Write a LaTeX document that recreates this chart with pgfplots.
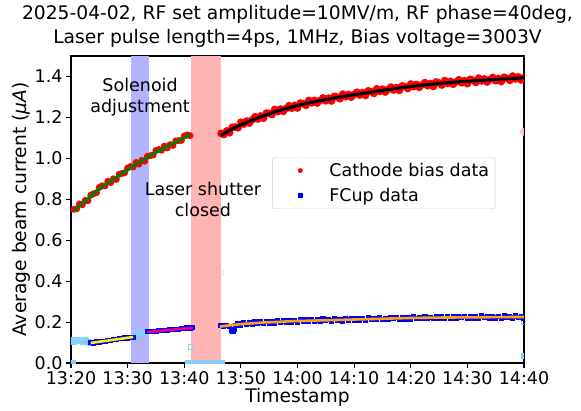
\documentclass[border=0pt]{standalone}
\usepackage{pgfplots}
\pgfplotsset{compat=1.18}
\usepackage{fontspec}
\setmainfont{DejaVu Sans}
\definecolor{lsky}{HTML}{87CEFA}
\definecolor{pinkx}{HTML}{FFC0CB}
\definecolor{bband}{HTML}{B3B3FF}
\definecolor{rband}{HTML}{FFB3B3}
\definecolor{fitgreen}{HTML}{008000}
\definecolor{fitorange}{HTML}{FFA500}
\newcommand{\fs}{\fontsize{17.5}{21}\selectfont}
\newcommand{\fl}{\fontsize{18.7}{24}\selectfont}
\begin{document}
\begin{tikzpicture}
\useasboundingbox (-71pt,-47pt) rectangle (510pt,363pt);
\begin{axis}[
  width=453pt, height=307pt, scale only axis,
  clip marker paths=true,
  xmin=0, xmax=80, ymin=0, ymax=1.5,
  xtick={0,10,...,80},
  xticklabels={13:20,13:30,13:40,13:50,14:00,14:10,14:20,14:30,14:40},
  ytick={0,0.2,...,1.41},
  yticklabel style={/pgf/number format/.cd, fixed, fixed zerofill, precision=1},
  /pgf/number format/assume math mode=true,
  tick label style={font=\fs},
  tick align=outside, xtick pos=bottom, ytick pos=left,
  major tick length=4.9pt,
  every tick/.style={black, line width=1.1pt},
  axis line style={line width=1.1pt},
  title={2025-04-02, RF set amplitude=10MV/m, RF phase=40deg,\\Laser pulse length=4ps, 1MHz, Bias voltage=3003V},
  title style={font=\fl, align=center, at={(0.5,1)}, anchor=south, yshift=-1pt},
  xlabel={Timestamp}, xlabel style={font=\fl, yshift=3pt},
  ylabel={Average beam current ({\itshape μA})}, ylabel style={font=\fl, yshift=-3pt},
  legend style={at={(0.444,0.671)}, anchor=north west, draw=black!20,
    rounded corners=3pt, font=\fs, row sep=6pt, inner sep=4pt, cells={anchor=west}},
  legend image code/.code={\path[draw=none, fill=none] (0pt,-4pt) rectangle (51pt,4pt);
    \draw[#1] plot coordinates {(24pt,0pt)};},
  dots/.style={only marks, forget plot, mark options={draw opacity=0}},
]
% shaded periods
\addplot[draw=none, fill=bband, forget plot] coordinates {(10.6,1.5) (13.8,1.5)} \closedcycle;
\addplot[draw=none, fill=rband, forget plot] coordinates {(21.2,1.5) (26.5,1.5)} \closedcycle;

\addlegendimage{only marks, mark=*, color=red, mark size=2.2pt}
\addlegendentry{Cathode bias data}
\addlegendimage{only marks, mark=square*, color=blue, mark size=2pt}
\addlegendentry{FCup data}

% excluded points
\addplot[dots, mark=square*, color=lsky, mark size=3pt] coordinates {
(0.0,0.108)(0.3,0.112)(0.6,0.104)(0.9,0.110)(1.2,0.113)(1.5,0.106)(1.8,0.109)
(2.1,0.104)(2.4,0.111)(2.7,0.107)(3.0,0.102)(3.3,0.099)
(0.2,0.000)(0.4,0.002)
(11.3,0.130)(11.7,0.136)(12.0,0.140)(12.4,0.145)(12.8,0.147)(13.2,0.150)
(20.6,0.000)(21.1,0.000)(21.6,0.000)(22.1,0.000)(22.6,0.000)(23.1,0.000)
(23.6,0.000)(24.1,0.000)(24.6,0.000)(25.1,0.000)(25.6,0.000)(26.1,0.000)(26.7,0.000)
(80,0.035)
};
\addplot[only marks, mark=square, color=lsky, mark size=2.5pt, forget plot] coordinates {(21.2,0.08)(80,0.20)};
\addplot[dots, mark=*, color=pinkx, mark size=4pt] coordinates {(80,1.13)};
\addplot[only marks, mark=o, color=pinkx, mark size=3pt, forget plot] coordinates {(26.5,0.44)};

% cathode bias data
\addplot[dots, mark=*, color=red, mark size=3.5pt] coordinates {
(0.5,0.751)(1.0,0.753)(1.5,0.777)(2.0,0.773)(2.5,0.794)(3.0,0.793)(3.5,0.820)(4.0,0.827)
(4.5,0.832)(5.0,0.858)(5.5,0.866)(6.0,0.865)(6.5,0.888)(7.0,0.881)(7.5,0.900)(8.0,0.897)
(8.5,0.922)(9.0,0.926)(9.5,0.930)(10.0,0.953)(10.5,0.960)(11.0,0.958)(11.5,0.980)(12.0,0.972)
(12.5,0.990)(13.0,0.986)(13.5,1.010)(14.0,1.013)(14.5,1.016)(15.0,1.038)(15.5,1.043)(16.0,1.040)
(16.5,1.060)(17.0,1.051)(17.5,1.067)(18.0,1.063)(18.5,1.085)(19.0,1.087)(19.5,1.088)(20.0,1.109)
(20.5,1.114)(21.0,1.111)
};
\addplot[dots, mark=*, color=red, mark size=3.9pt] coordinates {
(26.5,1.122)(27.0,1.116)(27.5,1.134)(28.0,1.125)(28.5,1.152)(29.0,1.153)(29.5,1.149)(30.0,1.176)
(30.5,1.167)(31.0,1.182)(31.5,1.172)(32.0,1.188)(32.5,1.203)(33.0,1.192)(33.5,1.207)(34.0,1.196)
(34.5,1.221)(35.0,1.220)(35.5,1.214)(36.0,1.239)(36.5,1.228)(37.0,1.241)(37.5,1.229)(38.0,1.244)
(38.5,1.257)(39.0,1.245)(39.5,1.259)(40.0,1.246)(40.5,1.270)(41.0,1.267)(41.5,1.259)(42.0,1.283)
(42.5,1.271)(43.0,1.283)(43.5,1.270)(44.0,1.283)(44.5,1.295)(45.0,1.281)(45.5,1.294)(46.0,1.280)
(46.5,1.303)(47.0,1.299)(47.5,1.291)(48.0,1.314)(48.5,1.301)(49.0,1.312)(49.5,1.299)(50.0,1.312)
(50.5,1.323)(51.0,1.309)(51.5,1.321)(52.0,1.307)(52.5,1.330)(53.0,1.326)(53.5,1.317)(54.0,1.340)
(54.5,1.327)(55.0,1.338)(55.5,1.324)(56.0,1.337)(56.5,1.348)(57.0,1.334)(57.5,1.346)(58.0,1.332)
(58.5,1.354)(59.0,1.350)(59.5,1.341)(60.0,1.363)(60.5,1.350)(61.0,1.361)(61.5,1.347)(62.0,1.359)
(62.5,1.370)(63.0,1.355)(63.5,1.366)(64.0,1.351)(64.5,1.373)(65.0,1.368)(65.5,1.358)(66.0,1.380)
(66.5,1.366)(67.0,1.376)(67.5,1.362)(68.0,1.374)(68.5,1.384)(69.0,1.369)(69.5,1.380)(70.0,1.365)
(70.5,1.386)(71.0,1.381)(71.5,1.371)(72.0,1.392)(72.5,1.378)(73.0,1.388)(73.5,1.373)(74.0,1.385)
(74.5,1.395)(75.0,1.379)(75.5,1.390)(76.0,1.375)(76.5,1.396)(77.0,1.391)(77.5,1.381)(78.0,1.402)
(78.5,1.388)(79.0,1.398)(79.5,1.383)(80.0,1.395)
};

% FCup data
\addplot[dots, mark=square*, color=blue, mark size=2.6pt] coordinates {
(3.5,0.099)(4.0,0.098)(4.5,0.103)(5.0,0.103)(5.5,0.107)(6.0,0.107)(6.5,0.111)(7.0,0.111)
(7.5,0.115)(8.0,0.115)(8.5,0.118)(9.0,0.118)(9.5,0.122)(10.0,0.122)(10.5,0.126)(11.0,0.126)
(13.5,0.152)(14.0,0.152)(14.5,0.155)(15.0,0.154)(15.5,0.158)(16.0,0.157)(16.5,0.160)(17.0,0.159)
(17.5,0.163)(18.0,0.162)(18.5,0.165)(19.0,0.165)(19.5,0.168)(20.0,0.167)(20.5,0.171)(21.0,0.170)
(21.5,0.173)
(26.5,0.184)(27.0,0.177)(27.5,0.184)(28.0,0.178)(28.3,0.160)(28.6,0.155)(28.9,0.165)(29.0,0.185)
(29.5,0.192)(30.0,0.185)(30.5,0.196)(31.0,0.188)(31.5,0.195)(32.0,0.188)(32.5,0.201)(33.0,0.194)
(33.5,0.200)(34.0,0.193)(34.5,0.204)(35.0,0.195)(35.5,0.202)(36.0,0.194)(36.5,0.206)(37.0,0.199)
(37.5,0.205)(38.0,0.198)(38.5,0.209)(39.0,0.200)(39.5,0.206)(40.0,0.199)(40.5,0.212)(41.0,0.204)
(41.5,0.210)(42.0,0.202)(42.5,0.212)(43.0,0.203)(43.5,0.210)(44.0,0.202)(44.5,0.215)(45.0,0.207)
(45.5,0.213)(46.0,0.205)(46.5,0.216)(47.0,0.207)(47.5,0.213)(48.0,0.205)(48.5,0.218)(49.0,0.210)
(49.5,0.216)(50.0,0.208)(50.5,0.219)(51.0,0.210)(51.5,0.216)(52.0,0.208)(52.5,0.221)(53.0,0.213)
(53.5,0.219)(54.0,0.211)(54.5,0.222)(55.0,0.213)(55.5,0.219)(56.0,0.211)(56.5,0.224)(57.0,0.216)
(57.5,0.221)(58.0,0.213)(58.5,0.224)(59.0,0.215)(59.5,0.222)(60.0,0.214)(60.5,0.226)(61.0,0.218)
(61.5,0.224)(62.0,0.216)(62.5,0.226)(63.0,0.217)(63.5,0.223)(64.0,0.216)(64.5,0.228)(65.0,0.220)
(65.5,0.225)(66.0,0.217)(66.5,0.228)(67.0,0.219)(67.5,0.225)(68.0,0.217)(68.5,0.229)(69.0,0.221)
(69.5,0.226)(70.0,0.218)(70.5,0.229)(71.0,0.220)(71.5,0.226)(72.0,0.218)(72.5,0.230)(73.0,0.222)
(73.5,0.227)(74.0,0.219)(74.5,0.229)(75.0,0.220)(75.5,0.227)(76.0,0.219)(76.5,0.231)(77.0,0.223)
(77.5,0.228)(78.0,0.220)(78.5,0.230)(79.0,0.221)(79.5,0.227)(80.0,0.219)
};

% fits
\addplot[fitgreen, line width=3pt, forget plot] coordinates {
(0.5,0.745)(2,0.780)(3.5,0.815)(5,0.850)(6.5,0.879)(8,0.907)(10,0.945)(12,0.979)
(14,1.013)(15,1.030)(16.5,1.051)(18,1.073)(19.5,1.094)(21,1.115)
};
\addplot[black, line width=3pt, forget plot] coordinates {
(26.5,1.112)(28,1.137)(30,1.164)(32,1.187)(34,1.208)(36,1.227)(38,1.243)(40,1.258)
(42,1.271)(44,1.282)(46,1.292)(48,1.302)(50,1.311)(52,1.319)(54,1.328)(56,1.336)
(58,1.344)(60,1.351)(62,1.358)(64,1.363)(66,1.368)(68,1.373)(70,1.377)(72,1.380)
(74,1.384)(76,1.387)(78,1.390)(80,1.394)
};
\addplot[yellow, line width=2.6pt, forget plot] coordinates {(3.5,0.098)(11.0,0.127)};
\addplot[magenta, line width=2.6pt, forget plot] coordinates {(13.5,0.151)(21.5,0.172)};
\addplot[fitorange, line width=2.6pt, forget plot] coordinates {
(26.3,0.178)(28,0.184)(30,0.190)(32,0.194)(34,0.198)(36,0.200)(38,0.203)(40,0.205)
(44,0.208)(48,0.211)(52,0.214)(56,0.217)(60,0.220)(65,0.222)(70,0.223)(75,0.224)(80,0.225)
};

\node[font=\fs, align=center] at (axis cs:12.2,1.30) {Solenoid\\adjustment};
\node[font=\fs, align=center] at (axis cs:23.3,0.80) {Laser shutter\\closed};
\end{axis}
\end{tikzpicture}
\end{document}
